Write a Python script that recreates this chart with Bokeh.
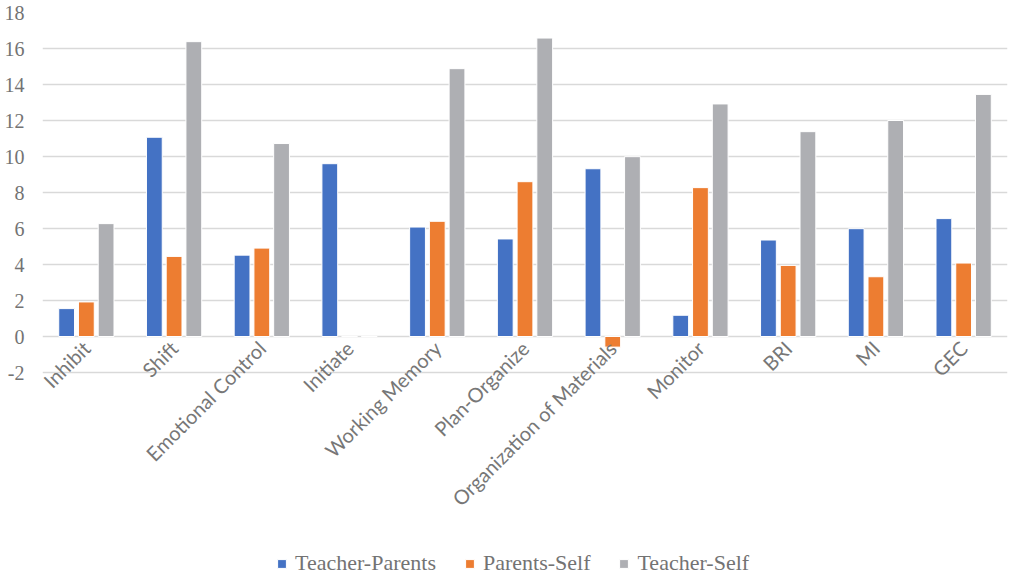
import math
from bokeh.plotting import figure
from bokeh.models import ColumnDataSource, FactorRange, Legend, LegendItem, Range1d, FixedTicker
from bokeh.transform import dodge
from bokeh.embed import file_html
from bokeh.resources import INLINE

categories = ["Inhibit", "Shift", "Emotional Control", "Initiate", "Working Memory",
              "Plan-Organize", "Organization of Materials", "Monitor", "BRI", "MI", "GEC"]
teacher_parents = [1.55, 11.07, 4.52, 9.60, 6.08, 5.42, 9.32, 1.18, 5.36, 5.99, 6.55]
parents_self = [1.92, 4.45, 4.91, 0.0, 6.40, 8.60, -0.59, 8.27, 3.95, 3.32, 4.08]
teacher_self = [6.27, 16.38, 10.72, 0.0, 14.88, 16.58, 9.99, 12.92, 11.38, 12.00, 13.45]
series_names = ["Teacher-Parents", "Parents-Self", "Teacher-Self"]
series_colors = ["#4472C4", "#ED7D31", "#AEAFB3"]
y_ticks = list(range(-2, 19, 2))

source = ColumnDataSource(dict(cat=categories, tp=teacher_parents,
                               ps=parents_self, ts=teacher_self))

# The frame runs to the bottom of the page; the value axis spans -2..18 and the
# room below -2 holds the rotated category labels and the legend.
p = figure(x_range=FactorRange(*categories), y_range=Range1d(-2 - 204 / 18, 18),
           frame_width=965, frame_height=564, output_backend="svg", toolbar_location=None,
           min_border_left=42, min_border_right=2, min_border_top=12, min_border_bottom=0)
p.outline_line_color = None
p.background_fill_color = "white"
p.border_fill_color = "white"

renderers = []
for col, off, color in zip(["tp", "ps", "ts"], [-0.225, 0.0, 0.225], series_colors):
    r = p.vbar(x=dodge("cat", off, range=p.x_range), top=col, bottom=0, width=0.18,
               source=source, fill_color=color, line_color="white", line_width=1)
    renderers.append(r)

# grid
p.xgrid.grid_line_color = None
p.ygrid.grid_line_color = "#D9D9D9"
p.ygrid.grid_line_width = 1.5
p.yaxis.ticker = FixedTicker(ticks=y_ticks)
p.yaxis.major_label_overrides = {t: str(t) for t in y_ticks}

# y axis: serif tick labels, no line or ticks
p.yaxis.axis_line_color = None
p.yaxis.major_tick_line_color = None
p.yaxis.minor_tick_line_color = None
p.yaxis.major_label_text_font = "Liberation Serif"
p.yaxis.major_label_text_font_size = "20px"
p.yaxis.major_label_text_color = "#737373"
p.yaxis.major_label_standoff = 12

# x axis: rotated category labels hung from the -2 line
p.xaxis.fixed_location = -2
p.xaxis.axis_line_color = None
p.xaxis.major_tick_line_color = None
p.xaxis.major_label_orientation = math.pi / 4
p.xaxis.major_label_text_font = "Lato"
p.xaxis.major_label_text_font_size = "20px"
p.xaxis.major_label_text_color = "#777777"
p.xaxis.major_label_standoff = -34

legend = Legend(items=[LegendItem(label=n, renderers=[r]) for n, r in zip(series_names, renderers)],
                orientation="horizontal", location=(234, 0),
                label_text_font="Liberation Serif", label_text_font_size="22px",
                label_text_color="#737373", glyph_width=11, glyph_height=11,
                label_standoff=8, spacing=28, border_line_color=None,
                background_fill_alpha=0, padding=0, margin=0)
p.add_layout(legend)

open("out.html", "w").write(file_html(p, INLINE))
